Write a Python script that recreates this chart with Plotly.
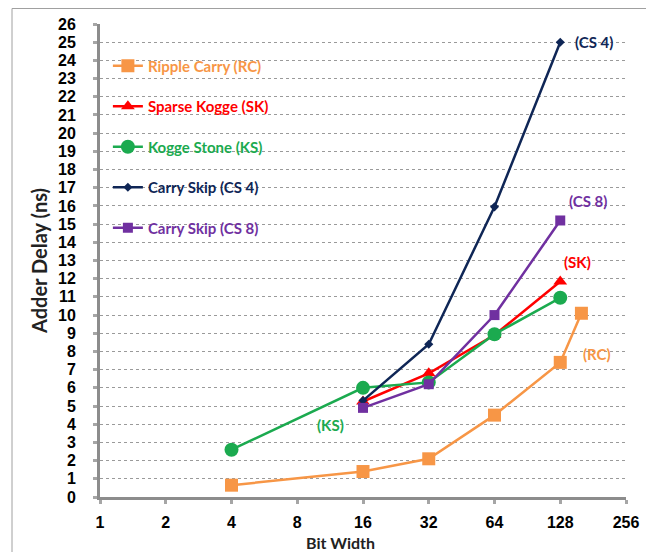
import math
import plotly.graph_objects as go

# ---- data ----
rc_x = [4, 16, 32, 64, 128, 160]
rc_y = [0.65, 1.4, 2.1, 4.5, 7.4, 10.1]
sk_x = [16, 32, 64, 128]
sk_y = [5.25, 6.8, 8.9, 11.85]
ks_x = [4, 16, 32, 64, 128]
ks_y = [2.6, 6.0, 6.3, 8.95, 10.95]
cs4_x = [16, 32, 64, 128]
cs4_y = [5.3, 8.4, 15.95, 25.0]
cs8_x = [16, 32, 64, 128]
cs8_y = [4.9, 6.2, 10.0, 15.2]

x_ticks = [1, 2, 4, 8, 16, 32, 64, 128, 256]
y_ticks = list(range(0, 27))

series = [
    ("Ripple Carry (RC)", rc_x, rc_y, "#F79646", "square", 13, 2.5),
    ("Sparse Kogge (SK)", sk_x, sk_y, "#FF0000", "triangle-up", 12, 2.5),
    ("Kogge Stone (KS)", ks_x, ks_y, "#1BAA4F", "circle", 14, 2.5),
    ("Carry Skip (CS 4)", cs4_x, cs4_y, "#0F2656", "diamond", 7, 2.5),
    ("Carry Skip (CS 8)", cs8_x, cs8_y, "#7030A0", "square", 10, 2.5),
]

# text, x, y, colour, xanchor, xshift, yshift
labels = [
    ("(CS 4)", 128, 25.0, "#0F2656", "left", 13, 0),
    ("(CS 8)", 128, 15.2, "#7030A0", "left", 7, 19),
    ("(SK)", 128, 11.85, "#FF0000", "left", 2, 19),
    ("(RC)", 160, 10.1, "#F79646", "left", 0, -41),
    ("(KS)", 11.3, 3.95, "#1BAA4F", "center", 0, 0),
]

LFONT = "Lato"

# page offset of 8px is compensated in the margins
ML, MR, MT, MB = 92, 36, 16, 63
W, H = 654, 552
PW, PH = W - ML - MR, H - MT - MB

fig = go.Figure()
for name, xs, ys, col, sym, sz, lw in series:
    fig.add_trace(go.Scatter(
        x=xs, y=ys, mode="lines+markers",
        name=f"<span style='color:{col}'>{name}</span>",
        line=dict(color=col, width=lw),
        marker=dict(color=col, symbol=sym, size=sz),
        legendgroup=name,
    ))

for txt, lx, ly, col, xa, dx, dy in labels:
    fig.add_annotation(
        x=math.log10(lx), y=ly, text=txt, showarrow=False,
        xanchor=xa, xshift=dx, yshift=dy,
        font=dict(family=LFONT, size=15, color=col, weight="bold"),
    )

# x-axis title (sits left of centre in the reference)
fig.add_annotation(
    xref="paper", yref="paper", x=(332 - ML) / PW, y=(H - MB - 534) / PH,
    text="Bit Width", showarrow=False, xanchor="center", yanchor="middle",
    font=dict(family=LFONT, size=16, color="#222", weight="bold"),
)

bx = (4 - ML) / PW
by = (H - MB - 0.5) / PH

fig.update_layout(
    width=W, height=H,
    margin=dict(l=ML, r=MR, t=MT, b=MB),
    paper_bgcolor="white", plot_bgcolor="white",
    showlegend=True,
    legend=dict(
        x=0.015, y=0.946, xanchor="left", yanchor="top",
        bgcolor="rgba(0,0,0,0)",
        font=dict(family=LFONT, size=15, weight="bold"),
        tracegroupgap=18, itemwidth=30,
    ),
    xaxis=dict(
        type="log", range=[0, 2.40824], tickvals=x_ticks,
        ticktext=[str(v) for v in x_ticks],
        showgrid=False, zeroline=False, automargin=False,
        showline=True, linecolor="#8C8C8C", linewidth=3,
        ticks="outside", ticklen=4, tickwidth=3, tickcolor="#A6A6A6",
        tickfont=dict(family="Liberation Sans", size=16, color="black", weight="bold"),
        ticklabelstandoff=5,
    ),
    yaxis=dict(
        range=[0, 26], tickvals=y_ticks,
        showgrid=True, gridcolor="#9A9A9A", gridwidth=1, griddash="dot",
        zeroline=False, automargin=False,
        showline=True, linecolor="#8C8C8C", linewidth=3,
        ticks="outside", ticklen=4, tickwidth=3, tickcolor="#A6A6A6",
        tickfont=dict(family="Liberation Sans", size=16, color="black", weight="bold"),
        ticklabelstandoff=14,
        title=dict(text="Adder Delay (ns)", font=dict(family=LFONT, size=20, color="#222", weight="bold"), standoff=6),
    ),
    shapes=[
        dict(type="line", xref="paper", yref="paper",
             x0=bx, x1=1.2, y0=by, y1=by,
             line=dict(color="#A0A0A0", width=1)),
        dict(type="line", xref="paper", yref="paper",
             x0=bx, x1=bx, y0=-0.3, y1=by,
             line=dict(color="#A0A0A0", width=1)),
    ],
)

fig.write_html("out.html")
